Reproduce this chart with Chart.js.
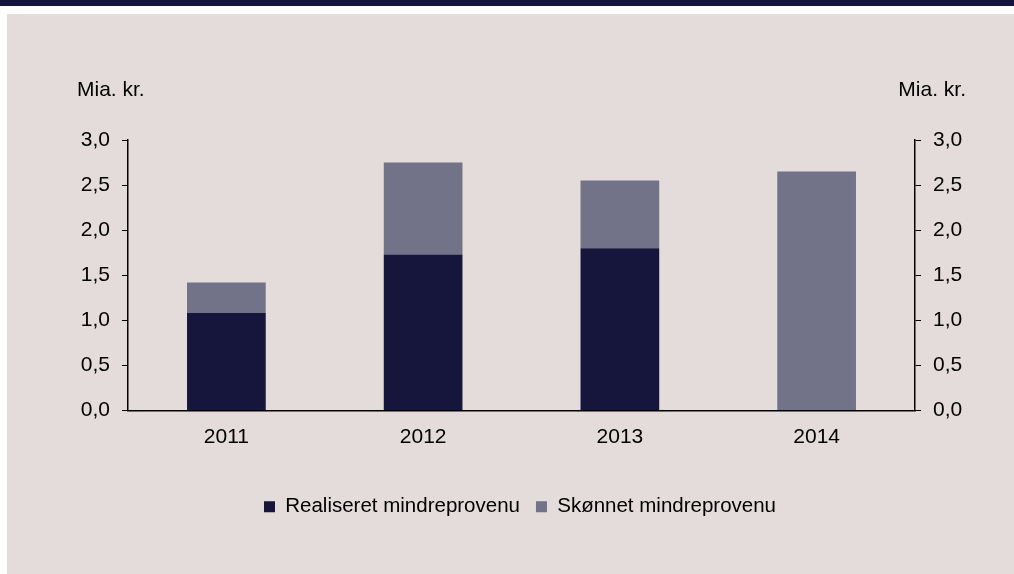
<!DOCTYPE html>
<html>
<head>
<meta charset="utf-8">
<script src="https://cdn.jsdelivr.net/npm/chart.js@4.4.1/dist/chart.umd.min.js"></script>
<style>
  html, body { margin: 0; padding: 0; background: #ffffff; }
  #wrap { position: relative; width: 1014px; height: 574px; }
</style>
</head>
<body>
<div id="wrap"><canvas id="mindreprovenu-chart" width="1014" height="574"></canvas></div>
<script>
// data
const years = ["2011", "2012", "2013", "2014"];
const realiseret = [1.08, 1.73, 1.80, 0];
const skoennet = [0.34, 1.02, 0.75, 2.65];
const unitLabel = "Mia. kr.";

const fmt = (v) => Number(v).toFixed(1).replace(".", ",");
const FONT = "'Liberation Sans', Arial, sans-serif";
const SIZE = 21;

// background panel + the two unit labels
const panelPlugin = {
  id: "panel",
  beforeDraw(chart) {
    const c = chart.ctx;
    c.save();
    c.fillStyle = "#ffffff";
    c.fillRect(0, 0, chart.width, chart.height);
    c.fillStyle = "#14143c";
    c.fillRect(0, 0, chart.width, 6);
    c.fillStyle = "#e3dcda";
    c.fillRect(7, 14, chart.width - 7, chart.height - 14);
    c.restore();
  },
  afterDraw(chart) {
    const c = chart.ctx;
    c.save();
    c.fillStyle = "#000000";
    c.font = SIZE + "px " + FONT;
    c.textBaseline = "middle";
    c.textAlign = "left";
    c.fillText(unitLabel, 77, 90);
    c.textAlign = "right";
    c.fillText(unitLabel, 966, 90);
    c.restore();
  }
};

const canvas = document.getElementById("mindreprovenu-chart");
const ctx = canvas.getContext("2d");

new Chart(ctx, {
  type: "bar",
  data: {
    labels: years,
    datasets: [
      {
        label: "Realiseret mindreprovenu",
        data: realiseret,
        backgroundColor: "#16163c",
        barPercentage: 0.8,
        categoryPercentage: 0.5
      },
      {
        label: "Skønnet mindreprovenu",
        data: skoennet,
        backgroundColor: "#727289",
        barPercentage: 0.8,
        categoryPercentage: 0.5
      }
    ]
  },
  options: {
    responsive: false,
    animation: false,
    layout: { padding: { top: 140, left: 26, right: 0, bottom: 47 } },
    font: { family: FONT, size: SIZE },
    plugins: {
      tooltip: { enabled: false },
      legend: {
        position: "bottom",
        labels: {
          color: "#000000",
          boxWidth: 11,
          boxHeight: 11,
          padding: 16,
          font: { family: FONT, size: 20.5 }
        }
      }
    },
    scales: {
      x: {
        stacked: true,
        grid: { display: false, drawTicks: false },
        border: { display: true, color: "#000000", width: 1.5 },
        ticks: { color: "#000000", padding: 14, font: { family: FONT, size: SIZE } },
        afterFit(scale) { scale.height = 70; }
      },
      y: {
        stacked: true,
        position: "left",
        min: 0,
        max: 3,
        ticks: { stepSize: 0.5, color: "#000000", padding: 12, callback: fmt, font: { family: FONT, size: SIZE } },
        grid: { drawOnChartArea: false, drawTicks: true, tickLength: 6, color: "#000000" },
        border: { display: true, color: "#000000", width: 1.5 },
        afterFit(scale) { scale.width = 102; }
      },
      y2: {
        position: "right",
        min: 0,
        max: 3,
        ticks: { stepSize: 0.5, color: "#000000", padding: 12, callback: fmt, font: { family: FONT, size: SIZE } },
        grid: { drawOnChartArea: false, drawTicks: true, tickLength: 6, color: "#000000" },
        border: { display: true, color: "#000000", width: 1.5 },
        afterFit(scale) { scale.width = 99; }
      }
    }
  },
  plugins: [panelPlugin]
});
</script>
</body>
</html>
